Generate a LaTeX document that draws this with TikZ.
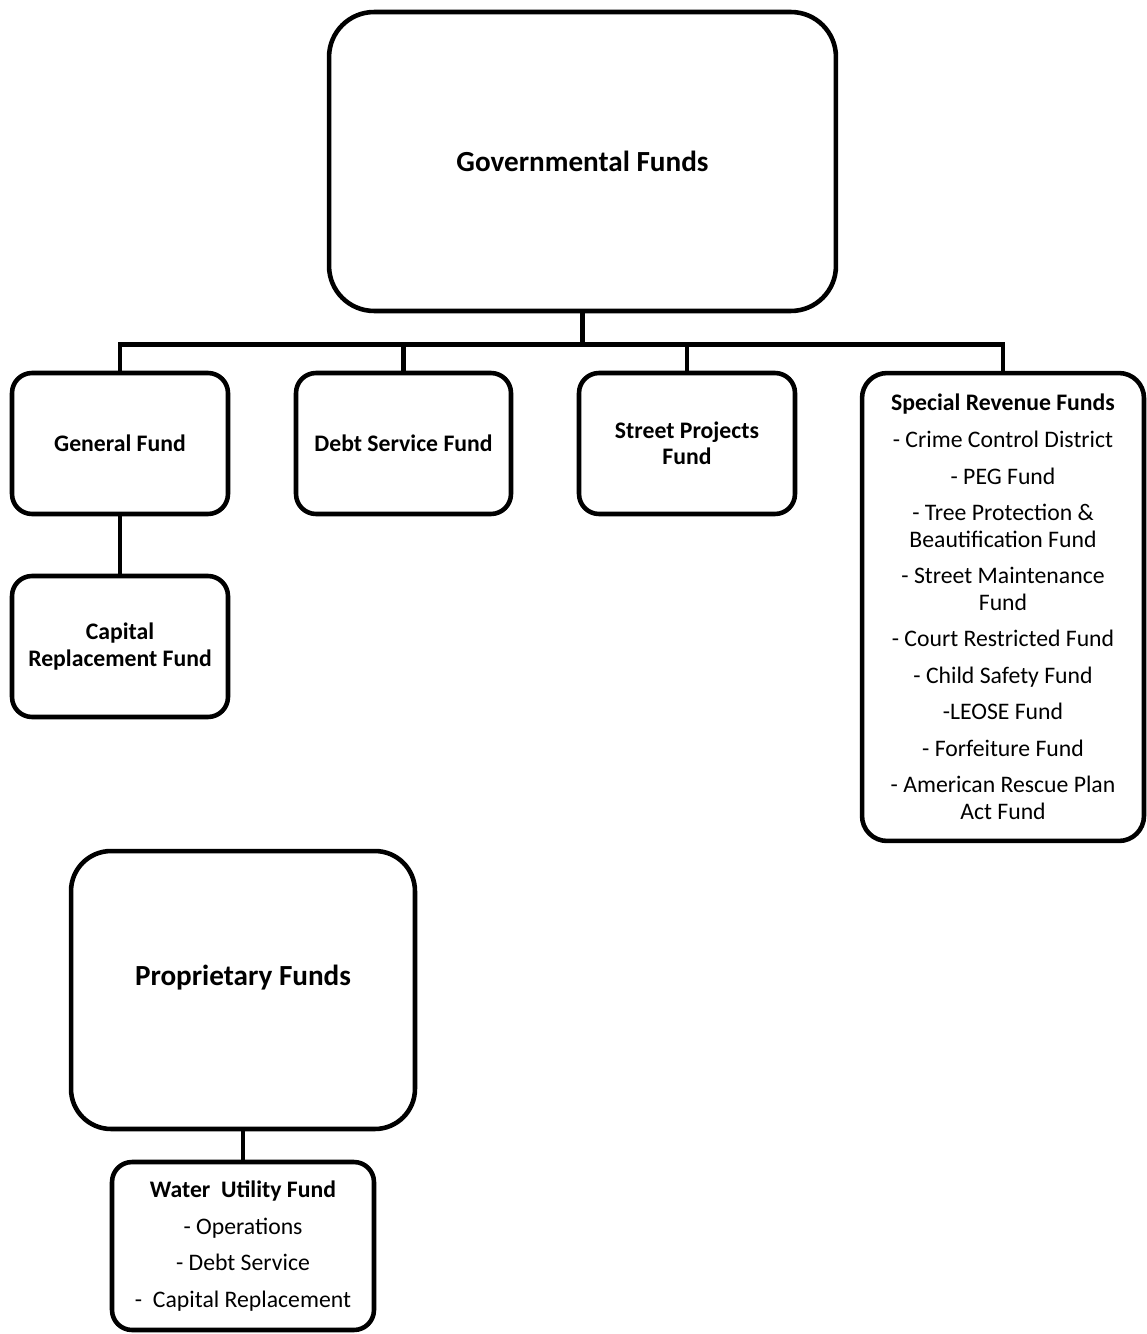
\documentclass[tikz,border=0pt]{standalone}
\usepackage{fontspec}
\setmainfont{Carlito}
\usepackage{tikz}

\begin{document}
\begin{tikzpicture}[
    x=0.02cm, y=-0.02cm,
    fund/.style={rectangle, draw=black, line width=2.6pt, fill=white,
        rounded corners=0.4cm, align=center, inner sep=0pt,
        font=\fontsize{13.5}{15.1}\selectfont},
    bigfund/.style={fund, rounded corners=0.9cm,
        font=\fontsize{16.6}{19}\selectfont\bfseries},
    edge/.style={line width=2.6pt, -}
]
    \useasboundingbox (0,0) rectangle (1146,1334);
    \node[bigfund, minimum width=10.14cm, minimum height=5.98cm] (gov) at (582.5,161.5) {Governmental Funds};
    \node[fund, minimum width=4.32cm, minimum height=2.82cm] (gen) at (120,443.5) {\bfseries General Fund};
    \node[fund, minimum width=4.30cm, minimum height=2.82cm] (debt) at (403.5,443.5) {\bfseries Debt Service Fund};
    \node[fund, minimum width=4.32cm, minimum height=2.82cm] (street) at (687,443.5) {\bfseries Street Projects\\\bfseries Fund};
    \node[fund, rounded corners=0.5cm, minimum width=5.64cm, minimum height=9.36cm] (special) at (1003,607) {%
        \bfseries Special Revenue Funds\\[5.7pt]
        - Crime Control District\\[5.7pt]
        - PEG Fund\\[5.7pt]
        - Tree Protection \&\\Beautification Fund\\[5.7pt]
        - Street Maintenance\\Fund\\[5.7pt]
        - Court Restricted Fund\\[5.7pt]
        - Child Safety Fund\\[5.7pt]
        -LEOSE Fund\\[5.7pt]
        - Forfeiture Fund\\[5.7pt]
        - American Rescue Plan\\Act Fund};
    \node[fund, minimum width=4.32cm, minimum height=2.82cm] (cap) at (120,646.5) {\bfseries Capital\\\bfseries Replacement Fund};
    \node[bigfund, rounded corners=0.8cm, minimum width=6.88cm, minimum height=5.56cm] (prop) at (243,990) {\raisebox{0.58cm}{Proprietary Funds}};
    \node[fund, minimum width=5.24cm, minimum height=3.36cm] (water) at (243,1246) {%
        \bfseries Water\ \ Utility Fund\\[5.7pt]
        - Operations\\[5.7pt]
        - Debt Service\\[5.7pt]
        -\ \ Capital Replacement};
    \draw[edge] (gov.south) -- ++(0,31) coordinate (bar);
    \draw[edge] (gen.north) |- (bar) -| (special.north);
    \draw[edge] (bar -| debt.north) -- (debt.north);
    \draw[edge] (bar -| street.north) -- (street.north);
    \draw[edge] (gen) -- (cap);
    \draw[edge] (prop) -- (water);
\end{tikzpicture}
\end{document}
